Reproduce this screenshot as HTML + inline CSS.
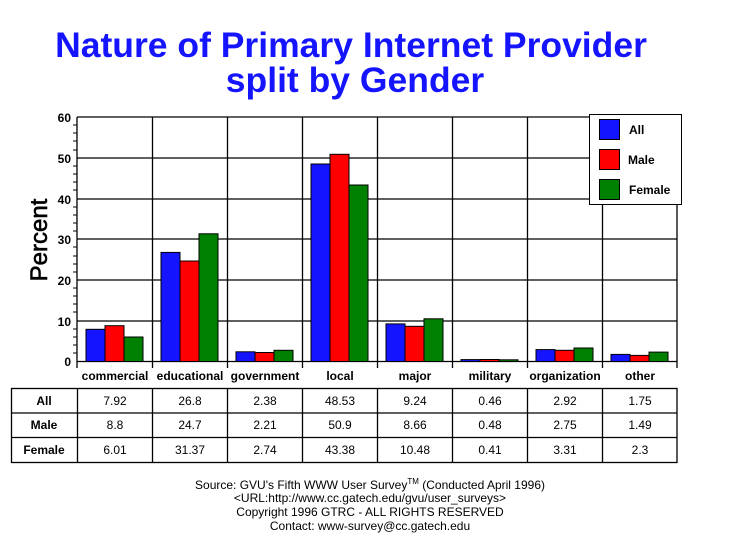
<!DOCTYPE html>
<html><head><style>
body{margin:0;background:#fff;}
svg text{font-family:"Liberation Sans",Arial,sans-serif;}
</style></head><body>
<svg width="729" height="553" xmlns="http://www.w3.org/2000/svg">
<text x="351" y="57" font-size="35.5" font-weight="bold" fill="#1414ff" text-anchor="middle">Nature of Primary Internet Provider</text>
<text x="355" y="92" font-size="35.5" font-weight="bold" fill="#1414ff" text-anchor="middle">split by Gender</text>
<g stroke="#000" stroke-width="1.3">
<line x1="77" y1="117" x2="677" y2="117"/>
<line x1="77" y1="158" x2="677" y2="158"/>
<line x1="77" y1="199" x2="677" y2="199"/>
<line x1="77" y1="239" x2="677" y2="239"/>
<line x1="77" y1="280" x2="677" y2="280"/>
<line x1="77" y1="321" x2="677" y2="321"/>
<line x1="77" y1="361.5" x2="677" y2="361.5"/>
<line x1="77" y1="117" x2="77" y2="368"/>
<line x1="152.5" y1="117" x2="152.5" y2="368"/>
<line x1="227.5" y1="117" x2="227.5" y2="368"/>
<line x1="302.5" y1="117" x2="302.5" y2="368"/>
<line x1="377.5" y1="117" x2="377.5" y2="368"/>
<line x1="452.5" y1="117" x2="452.5" y2="368"/>
<line x1="527.5" y1="117" x2="527.5" y2="368"/>
<line x1="602.5" y1="117" x2="602.5" y2="368"/>
<line x1="677" y1="117" x2="677" y2="368"/>
</g>
<g stroke="#000" stroke-width="1">
<line x1="73" y1="125" x2="77" y2="125"/><line x1="73" y1="133" x2="77" y2="133"/><line x1="73" y1="141" x2="77" y2="141"/><line x1="73" y1="150" x2="77" y2="150"/>
<line x1="73" y1="166" x2="77" y2="166"/><line x1="73" y1="174" x2="77" y2="174"/><line x1="73" y1="182" x2="77" y2="182"/><line x1="73" y1="190" x2="77" y2="190"/>
<line x1="73" y1="207" x2="77" y2="207"/><line x1="73" y1="215" x2="77" y2="215"/><line x1="73" y1="223" x2="77" y2="223"/><line x1="73" y1="231" x2="77" y2="231"/>
<line x1="73" y1="247" x2="77" y2="247"/><line x1="73" y1="256" x2="77" y2="256"/><line x1="73" y1="264" x2="77" y2="264"/><line x1="73" y1="272" x2="77" y2="272"/>
<line x1="73" y1="288" x2="77" y2="288"/><line x1="73" y1="296" x2="77" y2="296"/><line x1="73" y1="304" x2="77" y2="304"/><line x1="73" y1="312" x2="77" y2="312"/>
<line x1="73" y1="329" x2="77" y2="329"/><line x1="73" y1="337" x2="77" y2="337"/><line x1="73" y1="345" x2="77" y2="345"/><line x1="73" y1="353" x2="77" y2="353"/>
</g>
<g font-size="12" font-weight="bold" text-anchor="end">
<text x="71" y="122">60</text><text x="71" y="163">50</text><text x="71" y="204">40</text><text x="71" y="244">30</text><text x="71" y="285">20</text><text x="71" y="326">10</text><text x="71" y="366">0</text>
</g>
<text transform="translate(47,240) rotate(-90)" font-size="24" stroke="#000" stroke-width="0.6" text-anchor="middle">Percent</text>
<g stroke="#000" stroke-width="1">
<rect x="86" y="329.3" width="19" height="32.2" fill="#1414ff"/><rect x="105" y="325.7" width="19" height="35.8" fill="#ff0000"/><rect x="124" y="337" width="19" height="24.5" fill="#008000"/>
<rect x="161" y="252.4" width="19" height="109.1" fill="#1414ff"/><rect x="180" y="261" width="19" height="100.5" fill="#ff0000"/><rect x="199" y="233.8" width="19" height="127.7" fill="#008000"/>
<rect x="236" y="351.8" width="19" height="9.7" fill="#1414ff"/><rect x="255" y="352.5" width="19" height="9" fill="#ff0000"/><rect x="274" y="350.3" width="19" height="11.2" fill="#008000"/>
<rect x="311" y="164" width="19" height="197.5" fill="#1414ff"/><rect x="330" y="154.3" width="19" height="207.2" fill="#ff0000"/><rect x="349" y="185" width="19" height="176.5" fill="#008000"/>
<rect x="386" y="323.9" width="19" height="37.6" fill="#1414ff"/><rect x="405" y="326.3" width="19" height="35.2" fill="#ff0000"/><rect x="424" y="318.8" width="19" height="42.7" fill="#008000"/>
<rect x="461" y="359.6" width="19" height="1.9" fill="#1414ff"/><rect x="480" y="359.5" width="19" height="2" fill="#ff0000"/><rect x="499" y="359.8" width="19" height="1.7" fill="#008000"/>
<rect x="536" y="349.6" width="19" height="11.9" fill="#1414ff"/><rect x="555" y="350.3" width="19" height="11.2" fill="#ff0000"/><rect x="574" y="348" width="19" height="13.5" fill="#008000"/>
<rect x="611" y="354.4" width="19" height="7.1" fill="#1414ff"/><rect x="630" y="355.4" width="19" height="6.1" fill="#ff0000"/><rect x="649" y="352.1" width="19" height="9.4" fill="#008000"/>
<rect x="589.5" y="114.5" width="92" height="90" fill="#fff"/>
<rect x="599.5" y="119.5" width="20" height="20" fill="#1414ff"/>
<rect x="599.5" y="149.5" width="20" height="20" fill="#ff0000"/>
<rect x="599.5" y="179.5" width="20" height="20" fill="#008000"/>
</g>
<g font-size="12" font-weight="bold">
<text x="629" y="134">All</text><text x="628" y="164">Male</text><text x="629" y="194">Female</text>
</g>
<g font-size="12" font-weight="bold" text-anchor="middle">
<text x="115" y="380">commercial</text><text x="190" y="380">educational</text><text x="265" y="380">government</text><text x="340" y="380">local</text><text x="415" y="380">major</text><text x="490" y="380">military</text><text x="565" y="380">organization</text><text x="640" y="380">other</text>
</g>
<g stroke="#000" stroke-width="1.3" fill="none">
<rect x="11.5" y="388.5" width="665.5" height="74"/>
<line x1="11" y1="413" x2="677" y2="413"/><line x1="11" y1="437.5" x2="677" y2="437.5"/>
<line x1="77.5" y1="388" x2="77.5" y2="462"/><line x1="152.5" y1="388" x2="152.5" y2="462"/><line x1="227.5" y1="388" x2="227.5" y2="462"/><line x1="302.5" y1="388" x2="302.5" y2="462"/><line x1="377.5" y1="388" x2="377.5" y2="462"/><line x1="452.5" y1="388" x2="452.5" y2="462"/><line x1="527.5" y1="388" x2="527.5" y2="462"/><line x1="602.5" y1="388" x2="602.5" y2="462"/>
</g>
<g font-size="12" text-anchor="middle">
<g font-weight="bold"><text x="44" y="405">All</text><text x="44" y="429">Male</text><text x="44" y="454">Female</text></g>
<text x="115" y="405">7.92</text><text x="190" y="405">26.8</text><text x="265" y="405">2.38</text><text x="340" y="405">48.53</text><text x="415" y="405">9.24</text><text x="490" y="405">0.46</text><text x="565" y="405">2.92</text><text x="640" y="405">1.75</text>
<text x="115" y="429">8.8</text><text x="190" y="429">24.7</text><text x="265" y="429">2.21</text><text x="340" y="429">50.9</text><text x="415" y="429">8.66</text><text x="490" y="429">0.48</text><text x="565" y="429">2.75</text><text x="640" y="429">1.49</text>
<text x="115" y="454">6.01</text><text x="190" y="454">31.37</text><text x="265" y="454">2.74</text><text x="340" y="454">43.38</text><text x="415" y="454">10.48</text><text x="490" y="454">0.41</text><text x="565" y="454">3.31</text><text x="640" y="454">2.3</text>
</g>
<g font-size="12" text-anchor="middle">
<text x="370" y="489">Source: GVU's Fifth WWW User Survey<tspan font-size="8" dy="-5">TM</tspan><tspan dy="5">  (Conducted April 1996)</tspan></text>
<text x="370" y="502">&lt;URL:http://www.cc.gatech.edu/gvu/user_surveys&gt;</text>
<text x="370" y="516">Copyright 1996 GTRC -  ALL RIGHTS RESERVED</text>
<text x="370" y="530">Contact: www-survey@cc.gatech.edu</text>
</g>
</svg>
</body></html>
